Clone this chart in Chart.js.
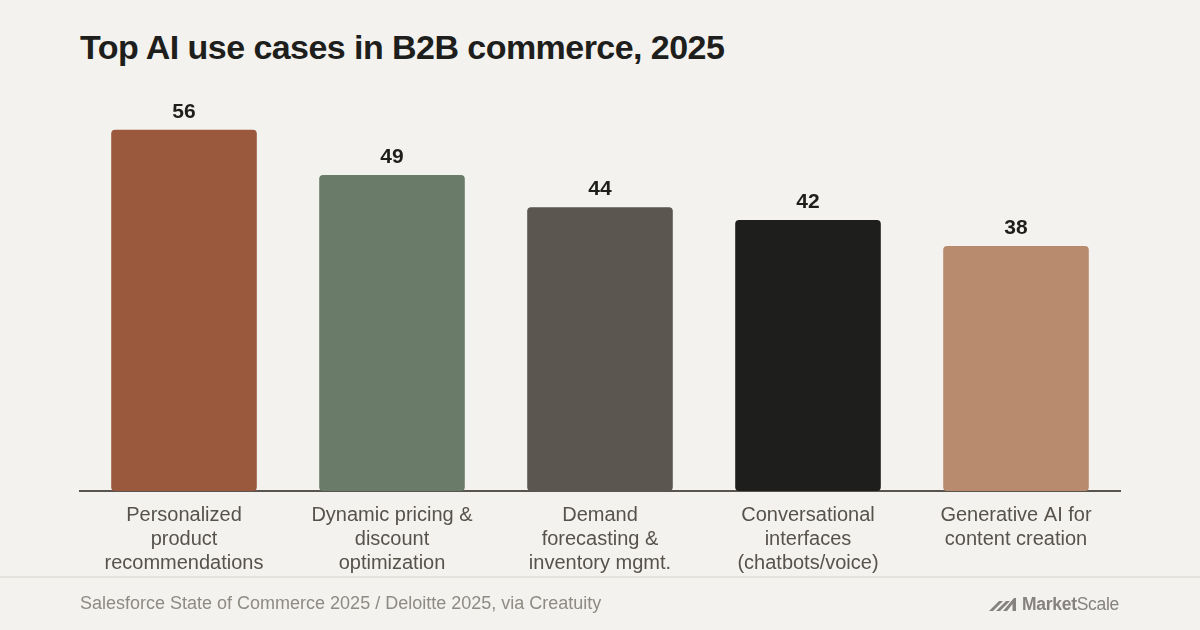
<!DOCTYPE html>
<html>
<head>
<meta charset="utf-8">
<script src="https://cdn.jsdelivr.net/npm/chart.js@4.4.1/dist/chart.umd.min.js"></script>
<style>
  html, body { margin: 0; padding: 0; }
  body { width: 1200px; height: 630px; background: #f3f2ee; position: relative; overflow: hidden; font-family: "Liberation Sans", Arial, Helvetica, sans-serif; }
  #title { position: absolute; left: 80px; top: 27px; font-size: 34px; font-weight: 700; color: #1e1e1c; letter-spacing: -0.55px; white-space: nowrap; line-height: 40px; }
  #wrap { position: absolute; left: 0; top: 0; width: 1200px; height: 630px; }
  #sep { position: absolute; left: 0; top: 576px; width: 1200px; height: 2px; background: #e6e3de; }
  #source { position: absolute; left: 80px; top: 593px; font-size: 18px; color: #8e8a84; line-height: 20px; white-space: nowrap; }
  #logo { position: absolute; right: 81px; top: 593px; height: 22px; display: flex; align-items: center; color: #858280; font-size: 17.5px; letter-spacing: -0.3px; }
  #logo svg { margin-right: 3px; }
  #logo b { font-weight: 700; }
</style>
</head>
<body>
<div id="title">Top AI use cases in B2B commerce, 2025</div>
<div id="wrap"><canvas id="c" width="1200" height="630"></canvas></div>
<div id="sep"></div>
<div id="source">Salesforce State of Commerce 2025 / Deloitte 2025, via Creatuity</div>
<div id="logo">
  <svg width="30" height="14" viewBox="0 0 30 14"><path d="M0 14 L10 4 L14 4 L4 14 Z M7 14 L17 4 L21 4 L11 14 Z M14 14 L25 1 L27 1 L27 14 L23.5 14 L23.5 7 L18 14 Z" fill="#858280"/></svg>
  <span><b>Market</b>Scale</span>
</div>
<script>
const categories = [
  ["Personalized", "product", "recommendations"],
  ["Dynamic pricing &", "discount", "optimization"],
  ["Demand", "forecasting &", "inventory mgmt."],
  ["Conversational", "interfaces", "(chatbots/voice)"],
  ["Generative AI for", "content creation"]
];
const values = [56, 49, 44, 42, 38];
const barColors = ["#9a593d", "#6a7b69", "#5c5650", "#1e1e1c", "#b98b6e"];

const valueLabels = {
  id: "valueLabels",
  afterDatasetsDraw(chart) {
    const ctx = chart.ctx;
    const meta = chart.getDatasetMeta(0);
    ctx.save();
    ctx.font = "700 21px 'Liberation Sans', Arial, sans-serif";
    ctx.fillStyle = "#1e1e1c";
    ctx.textAlign = "center";
    ctx.textBaseline = "alphabetic";
    meta.data.forEach((bar, i) => {
      ctx.fillText(String(values[i]), bar.x, bar.y - 12);
    });
    ctx.restore();
  }
};

new Chart(document.getElementById("c"), {
  type: "bar",
  data: {
    labels: categories,
    datasets: [{
      data: values,
      backgroundColor: barColors,
      borderRadius: 4,
      borderSkipped: false,
      barPercentage: 0.7,
      categoryPercentage: 1.0
    }]
  },
  options: {
    responsive: false,
    animation: false,
    devicePixelRatio: 1,
    layout: { padding: { left: 80, right: 80, top: 104, bottom: 0 } },
    plugins: { legend: { display: false }, tooltip: { enabled: false } },
    scales: {
      y: { display: false, min: 0, max: 60 },
      x: {
        grid: { display: false, drawTicks: false },
        border: { display: true, color: "#5a544e", width: 2 },
        ticks: {
          color: "#57524c",
          padding: 12,
          maxRotation: 0,
          autoSkip: false,
          font: { family: "'Liberation Sans', Arial, sans-serif", size: 20, lineHeight: 1.2 }
        },
        afterFit(scale) { scale.height = 139; }
      }
    }
  },
  plugins: [valueLabels]
});
</script>
</body>
</html>
